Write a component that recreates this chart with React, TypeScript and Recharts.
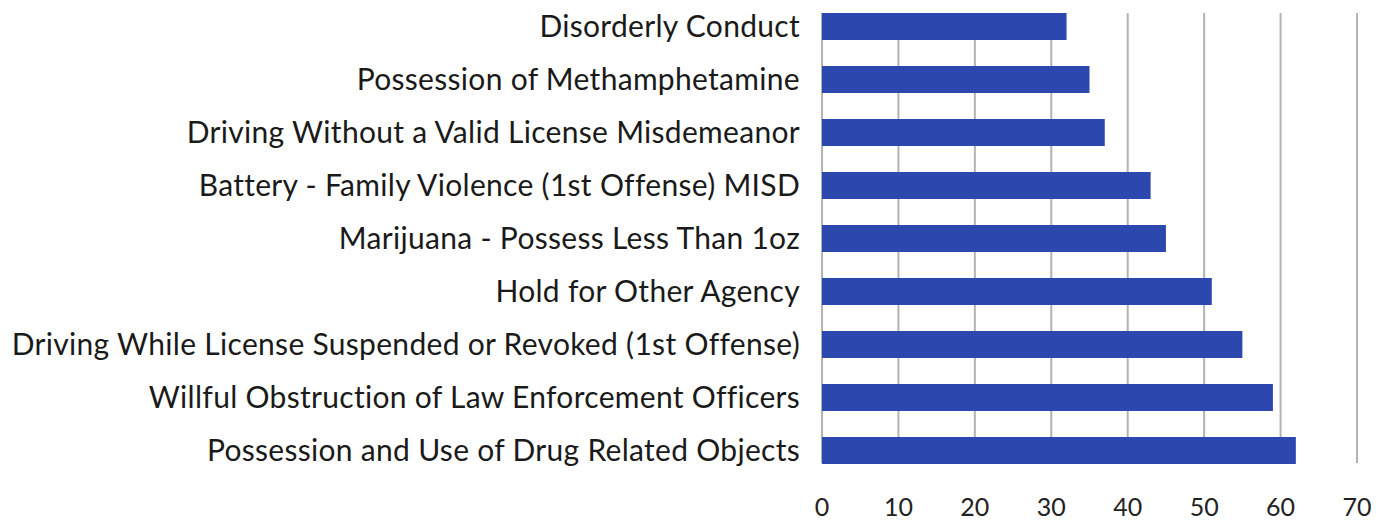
import { BarChart, Bar, XAxis, YAxis, CartesianGrid } from 'recharts';

const offenses = [
  'Disorderly Conduct',
  'Possession of Methamphetamine',
  'Driving Without a Valid License Misdemeanor',
  'Battery - Family Violence (1st Offense) MISD',
  'Marijuana - Possess Less Than 1oz',
  'Hold for Other Agency',
  'Driving While License Suspended or Revoked (1st Offense)',
  'Willful Obstruction of Law Enforcement Officers',
  'Possession and Use of Drug Related Objects',
];

const counts = [32, 35, 37, 43, 45, 51, 55, 59, 62];

const xTicks = [0, 10, 20, 30, 40, 50, 60, 70];

const data = offenses.map((name, i) => ({ name, count: counts[i] }));

const FONT = 'Lato, "Open Sans", sans-serif';

export default function App() {
  return (
    <div style={{ position: 'absolute', left: 0, top: 0, background: '#fff' }}>
      <BarChart
        width={1387}
        height={522}
        data={data}
        layout="vertical"
        margin={{ top: 0, right: 30, bottom: 0, left: 0 }}
        barSize={27}
      >
        <CartesianGrid
          horizontal={false}
          vertical={(p: any) => (
            <line
              key={`v-${p.index}`}
              x1={p.x1}
              x2={p.x2}
              y1={p.y1 + 13}
              y2={p.y2 - 14}
              stroke="#b3b3b3"
              strokeWidth={2}
            />
          )}
        />
        <XAxis
          type="number"
          domain={[0, 70]}
          ticks={xTicks}
          axisLine={false}
          tickLine={false}
          tickSize={0}
          tickMargin={21}
          height={45}
          tick={{ fill: '#222', fontSize: 25, fontFamily: FONT }}
        />
        <YAxis
          type="category"
          dataKey="name"
          width={822}
          axisLine={false}
          tickLine={false}
          tickSize={0}
          tickMargin={22}
          interval={0}
          tick={{ fill: '#1a1a1a', fontSize: 30, fontFamily: FONT, letterSpacing: 0.3 }}
        />
        <Bar dataKey="count" fill="#2c48ae" isAnimationActive={false} />
      </BarChart>
    </div>
  );
}
